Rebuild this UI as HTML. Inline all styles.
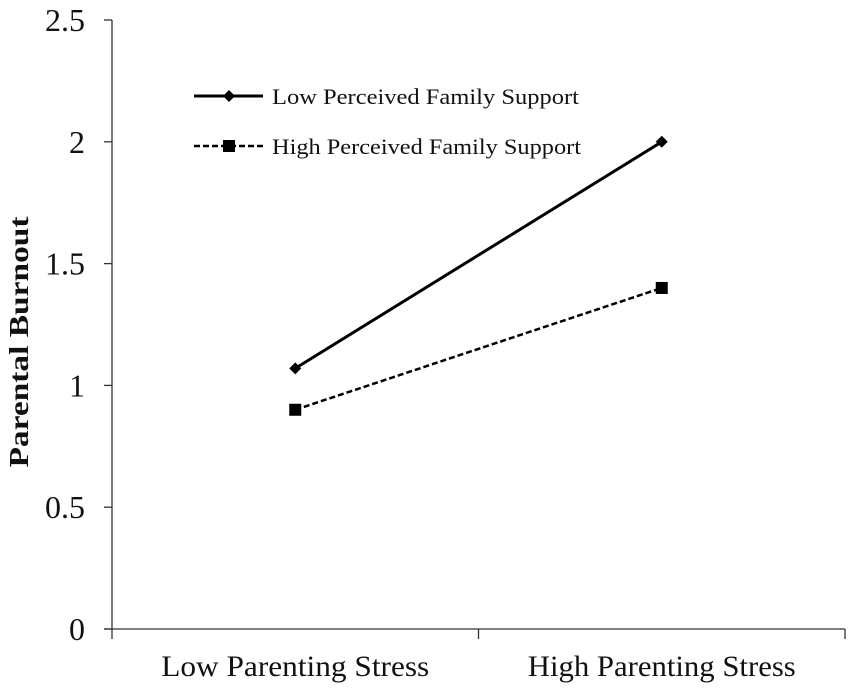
<!DOCTYPE html>
<html><head><meta charset="utf-8"><style>
body{margin:0;background:#fff;}
svg{display:block;font-family:"Liberation Serif",serif;}
</style></head><body>
<svg id="chart" width="851" height="689"></svg>
<script>
const categories=["Low Parenting Stress","High Parenting Stress"];
const lowSupport=[1.07,2.0];
const highSupport=[0.9,1.4];
const yTicks=[0,0.5,1,1.5,2,2.5];
const yTickLabels=["0","0.5","1","1.5","2","2.5"];
const NS="http://www.w3.org/2000/svg";
const svg=document.getElementById('chart');
const x0=112,x1=845,yB=629,yT=20;
function yS(v){return yB-(v/2.5)*(yB-yT);}
function xS(i){return x0+(x1-x0)*(i+0.5)/categories.length;}
function mk(t,a,p){const e=document.createElementNS(NS,t);for(const k in a)e.setAttribute(k,a[k]);(p||svg).appendChild(e);return e;}
let e;
e=mk('line',{x1:x0,y1:yT,x2:x0,y2:yB+1,stroke:'#333','stroke-width':1.3});


e=mk('line',{x1:x0-8,y1:yB,x2:x1,y2:yB,stroke:'#333','stroke-width':1.3});


yTicks.forEach((v,i)=>{
  const t=mk('line',{x1:x0-8,y1:yS(v),x2:x0,y2:yS(v),stroke:'#333','stroke-width':1.3});
  
  
  const l=mk('text',{x:85,y:yS(v)+11,'text-anchor':'end','font-size':32,fill:'#111'});
  l.textContent=yTickLabels[i];
  
  
});
[0,1,2].forEach(i=>{
  const xx=x0+(x1-x0)*i/categories.length;
  const t=mk('line',{x1:xx,y1:yB,x2:xx,y2:yB+10,stroke:'#333','stroke-width':1.3});
  
  
});
categories.forEach((c,i)=>{
  const l=mk('text',{x:xS(i),y:676,'text-anchor':'middle','font-size':30,textLength:268,lengthAdjust:'spacingAndGlyphs',fill:'#111'});
  l.textContent=c;
  
  
});
e=mk('text',{x:0,y:0,transform:'translate(28,342) rotate(-90)','text-anchor':'middle','font-size':27,'font-weight':'bold',textLength:251,lengthAdjust:'spacingAndGlyphs',fill:'#111'});
e.textContent='Parental Burnout';


function diamond(cx,cy,s,name){const d=mk('polygon',{points:`${cx},${cy-s} ${cx+s},${cy} ${cx},${cy+s} ${cx-s},${cy}`,fill:'#000'});}
function square(cx,cy,s,name){const d=mk('rect',{x:cx-s,y:cy-s,width:2*s,height:2*s,fill:'#000'});}
e=mk('polyline',{points:lowSupport.map((v,i)=>xS(i)+','+yS(v)).join(' '),fill:'none',stroke:'#000','stroke-width':3});


e=mk('polyline',{points:highSupport.map((v,i)=>xS(i)+','+yS(v)).join(' '),fill:'none',stroke:'#000','stroke-width':2.5,'stroke-dasharray':'6,3'});


lowSupport.forEach((v,i)=>diamond(xS(i),yS(v),6,'low-support-point'));
highSupport.forEach((v,i)=>square(xS(i),yS(v),6,'high-support-point'));
// legend
e=mk('line',{x1:194,y1:96,x2:263,y2:96,stroke:'#000','stroke-width':3});


diamond(229,96,6,'legend-low-marker');
e=mk('text',{x:272,y:104,'font-size':22,textLength:307,lengthAdjust:'spacingAndGlyphs',fill:'#111'});e.textContent='Low Perceived Family Support';


e=mk('line',{x1:194,y1:146,x2:263,y2:146,stroke:'#000','stroke-width':2.5,'stroke-dasharray':'6,3'});


square(229,146,6,'legend-high-marker');
e=mk('text',{x:272,y:154,'font-size':22,textLength:309,lengthAdjust:'spacingAndGlyphs',fill:'#111'});e.textContent='High Perceived Family Support';


</script>
</body></html>
